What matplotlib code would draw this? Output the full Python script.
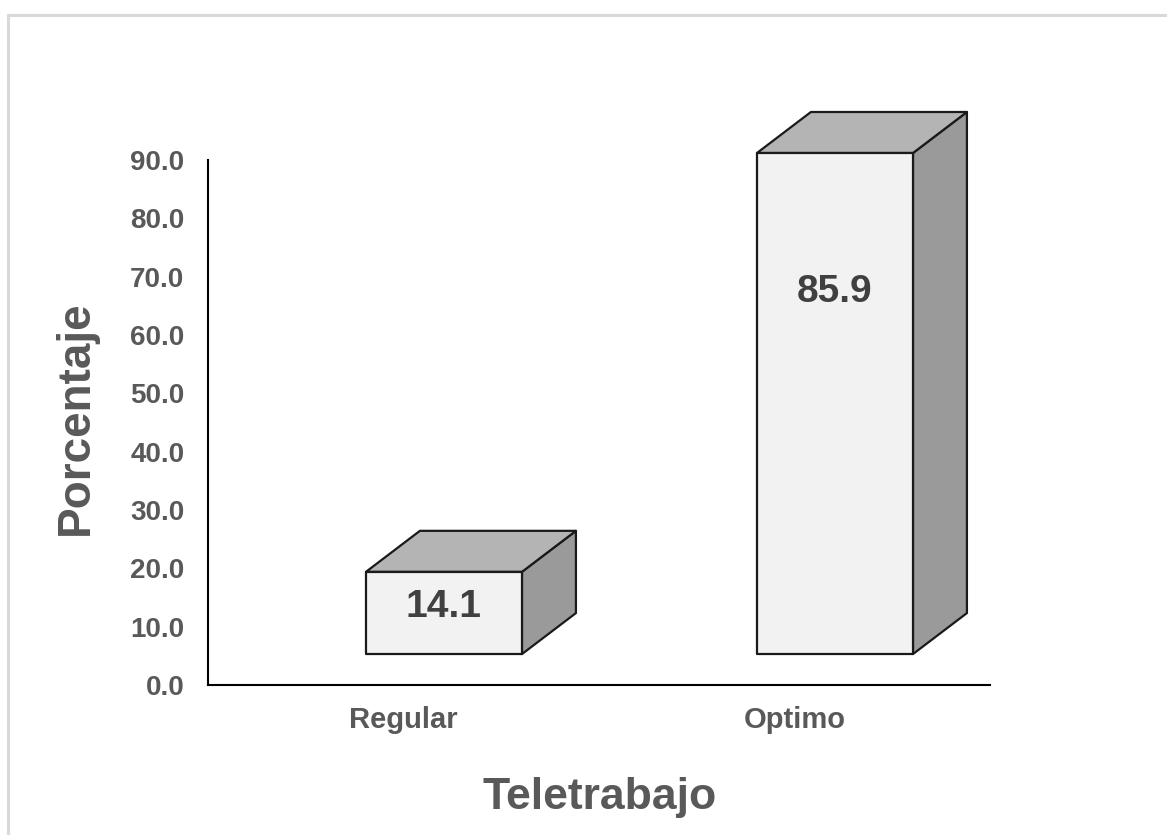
import matplotlib.pyplot as plt
from matplotlib.patches import Polygon, Rectangle
from matplotlib.lines import Line2D

# ----------------------------------------
# DATA
# ----------------------------------------
categories = ["Regular", "Optimo"]
values = [14.1, 85.9]
yticks = [0, 10, 20, 30, 40, 50, 60, 70, 80, 90]

# ----------------------------------------
# LAYOUT / STYLE
# ----------------------------------------
TEXT = "#595959"
FRONT = "#f2f2f2"
TOP = "#b4b4b4"
SIDE = "#9a9a9a"
EDGE = "#1a1a1a"

BASE = 5.3          # front face floor (3D offset)
FACE_OFF = -0.096   # front face left edge relative to category centre
FACE_W = 0.399
DEPTH_X = 0.138
DEPTH_Y = 7.03
LABEL_Y = [13.4, 67.4]

plt.rcParams["font.family"] = ["Liberation Sans", "DejaVu Sans"]
plt.rcParams["font.weight"] = "bold"

fig = plt.figure(figsize=(11.67, 8.35), dpi=100)
W, H = 1167, 835
ax = fig.add_axes([208 / W, 1 - 685 / H, 782 / W, 525 / H])

ax.set_xlim(0, 2)
ax.set_ylim(0, 90)

for i, (cat, v) in enumerate(zip(categories, values)):
    c = i + 0.5
    x0 = c + FACE_OFF
    x1 = x0 + FACE_W
    y0 = BASE
    y1 = BASE + v
    # side face
    side = Polygon([(x1, y0), (x1 + DEPTH_X, y0 + DEPTH_Y),
                    (x1 + DEPTH_X, y1 + DEPTH_Y), (x1, y1)],
                   closed=True, facecolor=SIDE, edgecolor=EDGE,
                   linewidth=1.6, joinstyle="round", clip_on=False, zorder=3)
    # top face
    top = Polygon([(x0, y1), (x0 + DEPTH_X, y1 + DEPTH_Y),
                   (x1 + DEPTH_X, y1 + DEPTH_Y), (x1, y1)],
                  closed=True, facecolor=TOP, edgecolor=EDGE,
                  linewidth=1.6, joinstyle="round", clip_on=False, zorder=3)
    front = Rectangle((x0, y0), FACE_W, v, facecolor=FRONT, edgecolor=EDGE,
                      linewidth=1.6, joinstyle="round", clip_on=False, zorder=4)
    ax.add_patch(side)
    ax.add_patch(top)
    ax.add_patch(front)
    ax.text(x0 + FACE_W / 2, LABEL_Y[i], f"{v:.1f}", ha="center", va="center",
            fontsize=28, fontweight="bold", color="#404040", zorder=5)

ax.set_xticks([0.5, 1.5])
ax.set_xticklabels(categories)
ax.set_yticks(yticks)
ax.set_yticklabels([f"{t:.1f}" for t in yticks])
ax.tick_params(axis="y", length=0, pad=17, labelsize=20, labelcolor=TEXT)
ax.tick_params(axis="x", length=0, pad=15, labelsize=21, labelcolor=TEXT)

for s in ["top", "right"]:
    ax.spines[s].set_visible(False)
for s in ["left", "bottom"]:
    ax.spines[s].set_color("#000000")
    ax.spines[s].set_linewidth(1.5)

fig.text(76 / W, 1 - 418 / H, "Porcentaje", rotation=90, ha="center",
         va="center", fontsize=33, fontweight="bold", color=TEXT)
fig.text(600 / W, 1 - 797 / H, "Teletrabajo", ha="center", va="center",
         fontsize=32, fontweight="bold", color=TEXT)

# chart frame (only top and left edges are in view)
fig.add_artist(Line2D([7.5 / W, 1], [1 - 14.5 / H, 1 - 14.5 / H],
                      transform=fig.transFigure, color="#d9d9d9", linewidth=2.2))
fig.add_artist(Line2D([7.5 / W, 7.5 / W], [0, 1 - 14.5 / H],
                      transform=fig.transFigure, color="#d9d9d9", linewidth=2.2))

fig.savefig("out.png", dpi=100)
